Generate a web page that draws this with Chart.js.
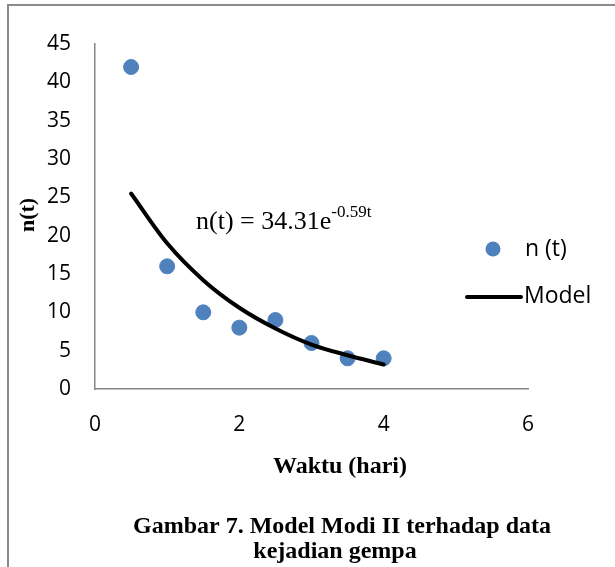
<!DOCTYPE html>
<html>
<head>
<meta charset="utf-8">
<script src="https://cdn.jsdelivr.net/npm/chart.js@4.4.0/dist/chart.umd.min.js"></script>
<style>
  html, body { margin: 0; padding: 0; background: #fff; }
  #wrap { position: relative; width: 615px; height: 567px; }
  #frame { position: absolute; left: 7px; top: 4px; right: 0; bottom: 0; border-top: 2px solid #8a8a8a; border-left: 2px solid #8a8a8a; }
  canvas { position: absolute; left: 0; top: 0; }
</style>
</head>
<body>
<div id="wrap">
  <div id="frame"></div>
  <canvas id="chart" width="615" height="567"></canvas>
</div>
<script>
// --- data ---
const timeDays = [0.5, 1, 1.5, 2, 2.5, 3, 3.5, 4];
const observed = [42, 16, 10, 8, 9, 6, 4, 4];
const modelValues = [25.5, 19.0, 14.2, 10.6, 7.9, 5.8, 4.4, 3.2];
const xTicks = [0, 2, 4, 6];
const yTicks = [0, 5, 10, 15, 20, 25, 30, 35, 40, 45];

const blue = '#4f81bd';
const axisGray = '#868686';
const tickFont = { family: 'Open Sans', size: 21 };

// extra text drawn on the canvas: equation, legend, titles, caption
const extraText = {
  id: 'extraText',
  afterDraw(chart) {
    const c = chart.ctx;
    c.save();
    c.fillStyle = '#000';
    c.textBaseline = 'alphabetic';

    // equation
    c.font = '26px "Liberation Serif"';
    c.textAlign = 'left';
    const eq = 'n(t) = 34.31e';
    c.fillText(eq, 196, 229);
    const w = c.measureText(eq).width;
    c.font = '17px "Liberation Serif"';
    c.fillText('-0.59t', 196 + w, 217);

    // legend
    c.fillStyle = blue;
    c.beginPath();
    c.arc(493, 249, 7.5, 0, Math.PI * 2);
    c.fill();
    c.strokeStyle = '#000';
    c.lineWidth = 4;
    c.lineCap = 'round';
    c.beginPath();
    c.moveTo(467, 297);
    c.lineTo(521, 297);
    c.stroke();
    c.fillStyle = '#000';
    c.font = '23px "Open Sans"';
    c.textBaseline = 'middle';
    c.fillText('n (t)', 525, 249);
    c.fillText('Model', 524, 296);

    // axis titles
    c.font = 'bold 24px "Liberation Serif"';
    c.textAlign = 'center';
    c.fillText('Waktu (hari)', 340, 467);
    c.save();
    c.translate(28, 215);
    c.rotate(-Math.PI / 2);
    c.font = 'bold 22px "Liberation Serif"';
    c.fillText('n(t)', 0, 0);
    c.restore();

    // caption
    c.font = 'bold 24px "Liberation Serif"';
    c.fillText('Gambar 7. Model Modi II terhadap data', 342, 527);
    c.fillText('kejadian gempa', 335, 552);
    c.restore();
  }
};

new Chart(document.getElementById('chart'), {
  type: 'scatter',
  data: {
    datasets: [
      {
        label: 'n (t)',
        data: timeDays.map((t, i) => ({ x: t, y: observed[i] })),
        backgroundColor: blue,
        borderColor: blue,
        pointRadius: 7.5,
        pointHoverRadius: 7.5,
        order: 1
      },
      {
        label: 'Model',
        type: 'line',
        data: timeDays.map((t, i) => ({ x: t, y: modelValues[i] })),
        borderColor: '#000',
        borderWidth: 4,
        pointRadius: 0,
        fill: false,
        cubicInterpolationMode: 'monotone',
        borderCapStyle: 'round',
        order: 0
      }
    ]
  },
  options: {
    responsive: false,
    animation: false,
    devicePixelRatio: 1,
    layout: { padding: { left: 0, right: 87, top: 44, bottom: 0 } },
    plugins: {
      legend: { display: false },
      tooltip: { enabled: false }
    },
    scales: {
      x: {
        type: 'linear',
        min: 0, max: 6,
        afterBuildTicks: s => { s.ticks = xTicks.map(v => ({ value: v })); },
        afterFit: s => { s.height = 178; },
        grid: { display: false, drawTicks: false },
        border: { display: true, color: axisGray, width: 1.5 },
        ticks: { color: '#000', font: tickFont, padding: 23 }
      },
      y: {
        type: 'linear',
        min: 0, max: 45,
        afterBuildTicks: s => { s.ticks = yTicks.map(v => ({ value: v })); },
        afterFit: s => { s.width = 95; },
        grid: { display: false, drawTicks: false },
        border: { display: true, color: axisGray, width: 1.5 },
        ticks: { color: '#000', font: tickFont, padding: 24 }
      }
    }
  },
  plugins: [extraText]
});
</script>
</body>
</html>
